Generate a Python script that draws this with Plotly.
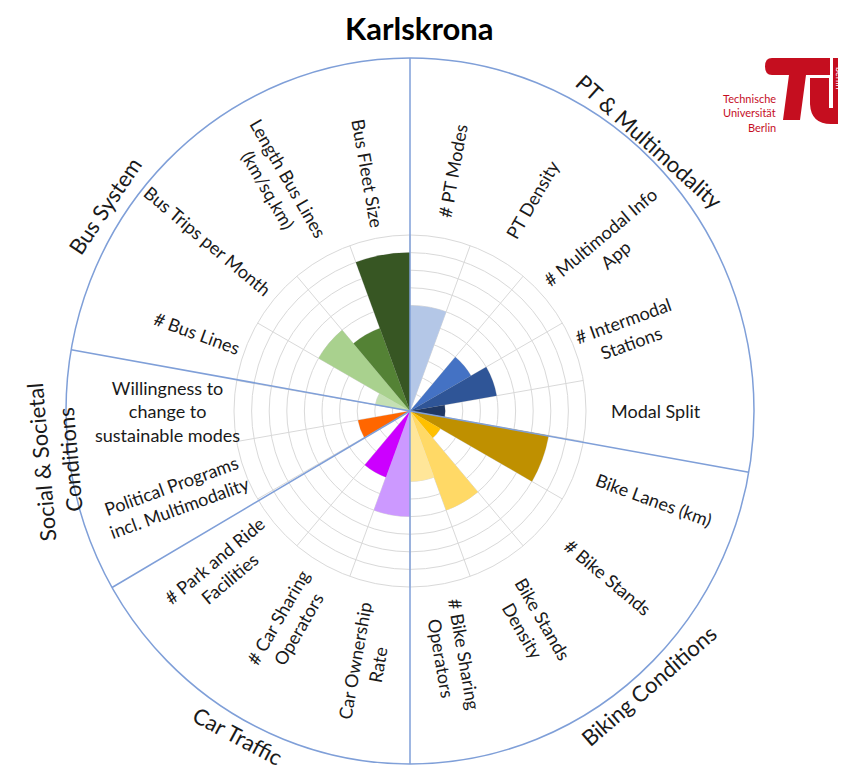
import math
import plotly.graph_objects as go

# ---------------- data ----------------
categories = ["# PT Modes", "PT Density", "# Multimodal Info<br>App", "# Intermodal<br>Stations",
              "Modal Split", "Bike Lanes (km)", "# Bike Stands", "Bike Stands<br>Density",
              "# Bike Sharing<br>Operators", "Car Ownership<br>Rate", "# Car Sharing<br>Operators",
              "# Park and Ride<br>Facilities", "Political Programs<br>incl. Multimodality",
              "Willingness to<br>change to<br>sustainable modes", "# Bus Lines",
              "Bus Trips per Month", "Length Bus Lines<br>(km/sq.km)", "Bus Fleet Size"]
values = [6, 0, 4, 5, 2, 8, 2, 6, 4, 6, 4, 0, 3, 0, 2, 6, 5, 9]
bar_colors = ["#B4C7E7", "#8FAADC", "#4472C4", "#2F5597", "#203864",
              "#BF9000", "#FFC000", "#FFD966", "#FFE699",
              "#CC99FF", "#CC00FF", "#9933CC",
              "#FF6600", "#F4B183",
              "#C5E0B4", "#A9D18E", "#548235", "#375623"]
groups = ["PT & Multimodality", "Biking Conditions", "Car Traffic",
          "Social & Societal<br>Conditions", "Bus System"]
group_sizes = [5, 4, 3, 2, 4]
title_text = "Karlskrona"

# ---------------- layout settings ----------------
OFF = 8                    # page body margin of the browser
W, H = 846 - OFF, 770 - OFF
CX, CY = 410, 411          # centre of chart (page px)
R_IN = 176                 # radius of bar grid (px)
RX_OUT, RY_OUT = 344, 353  # outer ellipse radii (px)
label_r = [244, 244, 258, 231, 246, 260, 258, 246, 249, 255, 245, 246, 250, 243, 227, 264, 262, 241]
group_pos = [(41.6, 361, 42), (139, 364, -41), (208, 368, 28), (262, 358, -95), (304, 368, -56)]
FONT = "Lato"
LINE_COL = "#7F9FD8"

n = len(categories)
step = 360 / n
theta = [step / 2 + step * i for i in range(n)]


def px(x, y):
    """page pixel -> paper coords"""
    return (x - OFF) / W, 1 - (y - OFF) / H


fig = go.Figure()
fig.add_trace(go.Barpolar(r=values, theta=theta, width=[step] * n,
                          marker=dict(color=bar_colors, line=dict(width=0)),
                          hoverinfo="skip"))

x0, y1 = px(CX - R_IN, CY - R_IN)
x1, y0 = px(CX + R_IN, CY + R_IN)

shapes = []
ex0, ey1 = px(CX - RX_OUT, CY - RY_OUT)
ex1, ey0 = px(CX + RX_OUT, CY + RY_OUT)
shapes.append(dict(type="circle", xref="paper", yref="paper", x0=ex0, x1=ex1, y0=ey0, y1=ey1,
                   line=dict(color=LINE_COL, width=1.5), layer="above"))
cum = 0
for s in [0] + group_sizes[:-1]:
    cum += s
    a = math.radians(cum * step)
    ax, ay = px(CX, CY)
    bx, by = px(CX + RX_OUT * math.sin(a), CY - RY_OUT * math.cos(a))
    shapes.append(dict(type="line", xref="paper", yref="paper", x0=ax, y0=ay, x1=bx, y1=by,
                       line=dict(color=LINE_COL, width=1.5), layer="above"))

# TU Berlin logo (decoration)
RED = "#C50E1F"


def qpath(cmds):
    out = []
    for c in cmds:
        op, pts = c[0], c[1:]
        coords = " ".join(f"{px(*p)[0]:.5f},{px(*p)[1]:.5f}" for p in pts)
        out.append(f"{op}{coords}")
    return " ".join(out) + " Z"


logo_T = qpath([("M", (772, 58)), ("L", (830, 58)), ("L", (830, 75)), ("L", (806, 75)),
                ("L", (800, 120)), ("L", (783, 120)), ("L", (789, 75)), ("L", (772, 75)),
                ("Q", (765, 75), (765, 66.5)), ("Q", (765, 58), (772, 58))])
logo_U = qpath([("M", (810, 78)), ("L", (829, 78)), ("L", (829, 108)), ("L", (833, 108)),
                ("L", (833, 58)), ("L", (846, 58)), ("L", (846, 124)), ("L", (831, 124)),
                ("Q", (811, 124), (810, 104))])
for p in (logo_T, logo_U):
    shapes.append(dict(type="path", xref="paper", yref="paper", path=p,
                       fillcolor=RED, line=dict(width=0)))

annotations = []
tx, ty = px(419, 28)
annotations.append(dict(text=f"<b>{title_text}</b>", x=tx, y=ty, xref="paper", yref="paper",
                        showarrow=False, font=dict(family=FONT, size=31, color="#000000"),
                        xanchor="center", yanchor="middle"))
for i, lab in enumerate(categories):
    th = theta[i]
    a = math.radians(th)
    r = label_r[i]
    lx, ly = px(CX + r * math.sin(a), CY - r * math.cos(a))
    ang = th - 90 if th < 180 else th - 270
    annotations.append(dict(text=lab, x=lx, y=ly, xref="paper", yref="paper", showarrow=False,
                            textangle=ang, xanchor="center", yanchor="middle", align="center",
                            font=dict(family=FONT, size=18, color="#1a1a1a")))
for g, (th, r, ang) in zip(groups, group_pos):
    a = math.radians(th)
    lx, ly = px(CX + r * math.sin(a), CY - r * math.cos(a))
    annotations.append(dict(text=g, x=lx, y=ly, xref="paper", yref="paper", showarrow=False,
                            textangle=ang, xanchor="center", yanchor="middle", align="center",
                            font=dict(family=FONT, size=22, color="#1a1a1a")))
for txt, yy in [("Technische", 98), ("Universität", 112.5), ("Berlin", 127)]:
    lx, ly = px(778, yy)
    annotations.append(dict(text=txt, x=lx, y=ly, xref="paper", yref="paper", showarrow=False,
                            xanchor="right", yanchor="middle",
                            font=dict(family=FONT, size=11, color=RED)))
lx, ly = px(839, 78)
annotations.append(dict(text="berlin", x=lx, y=ly, xref="paper", yref="paper", showarrow=False,
                        textangle=90, xanchor="center", yanchor="middle",
                        font=dict(family=FONT, size=9, color="#ffffff")))

fig.update_layout(
    width=W, height=H, margin=dict(l=0, r=0, t=0, b=0),
    paper_bgcolor="white", plot_bgcolor="white", showlegend=False,
    polar=dict(
        domain=dict(x=[x0, x1], y=[y0, y1]),
        bgcolor="rgba(0,0,0,0)",
        angularaxis=dict(rotation=90, direction="clockwise", tickmode="linear", tick0=0,
                         dtick=step, showticklabels=False, ticks="", gridcolor="#D9D9D9",
                         showline=True, linecolor="#D9D9D9", layer="above traces"),
        radialaxis=dict(range=[0, 10], tickmode="linear", tick0=0, dtick=1,
                        showticklabels=False, ticks="", gridcolor="#D9D9D9",
                        showline=False, layer="above traces"),
    ),
    shapes=shapes, annotations=annotations,
)

fig.write_html("out.html")
